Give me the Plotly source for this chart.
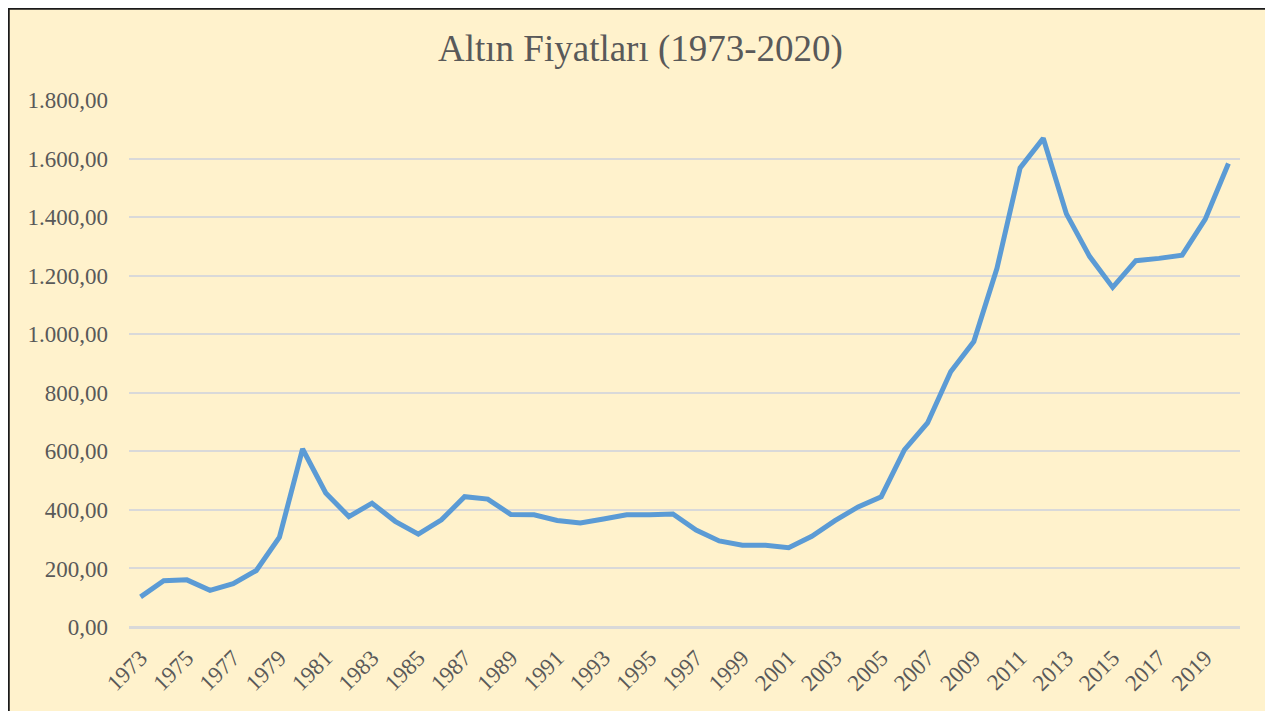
import plotly.graph_objects as go

years = [str(y) for y in range(1973, 2021)]
prices = [103, 158, 161, 125, 148, 193, 307, 608, 458, 377, 423, 361, 317, 366, 445, 437, 384, 383, 364, 355, 369, 383, 383, 386, 331, 294, 279, 279, 271, 310, 363, 410, 445, 605, 697, 872, 975, 1225, 1568, 1669, 1411, 1266, 1160, 1251, 1259, 1270, 1393, 1583]
ytick_vals = [0, 200, 400, 600, 800, 1000, 1200, 1400, 1600, 1800]
ytick_text = ["0,00", "200,00", "400,00", "600,00", "800,00", "1.000,00", "1.200,00", "1.400,00", "1.600,00", "1.800,00"]
xtick_vals = years[::2]
title_text = "Altın Fiyatları (1973-2020)"

# page has an 8px body margin; work in figure coordinates = page - 8
W, H = 1265, 703
ml, mr, mt, mb = 121, 33, 92, 84
pw, ph = W - ml - mr, H - mt - mb

font_family = "Liberation Serif, Times New Roman, serif"

fig = go.Figure()
fig.add_trace(go.Scatter(
    x=years, y=prices, mode="lines",
    line=dict(color="#5B9BD5", width=5, shape="linear"),
    hoverinfo="x+y",
))

def px_to_paper_x(px):
    return (px - ml) / pw

def px_to_paper_y(py):
    return (H - mb - py) / ph

fig.add_shape(
    type="rect", xref="paper", yref="paper",
    x0=px_to_paper_x(0.5), x1=px_to_paper_x(W + 20),
    y0=px_to_paper_y(H + 20), y1=px_to_paper_y(0.5),
    fillcolor="#FFF2CC", line=dict(color="#1a1a1a", width=2.5), layer="below",
)

fig.update_layout(
    width=W, height=H,
    margin=dict(l=ml, r=mr, t=mt, b=mb),
    paper_bgcolor="white",
    plot_bgcolor="rgba(0,0,0,0)",
    showlegend=False,
    title=dict(text=title_text, x=0.5, xref="container", xanchor="center",
               y=1 - 40 / H, yref="container", yanchor="middle",
               font=dict(family=font_family, size=37, color="#595959")),
    font=dict(family=font_family, color="#595959"),
)

fig.update_xaxes(
    type="category", range=[-0.5, len(years) - 0.5],
    tickmode="array", tickvals=xtick_vals, ticktext=xtick_vals,
    tickangle=-45, tickfont=dict(family=font_family, size=23, color="#595959"),
    showgrid=False, showline=False, zeroline=False, ticks="", ticklabelstandoff=12,
)
fig.update_yaxes(
    range=[0, 1800], tickmode="array", tickvals=ytick_vals, ticktext=ytick_text,
    tickfont=dict(family=font_family, size=23, color="#595959"),
    showgrid=True, gridcolor="#D9D9D9", gridwidth=1.5,
    zeroline=True, zerolinecolor="#D9D9D9", zerolinewidth=3,
    showline=False, ticks="", ticklabelstandoff=20,
)

fig.write_html("out.html")
